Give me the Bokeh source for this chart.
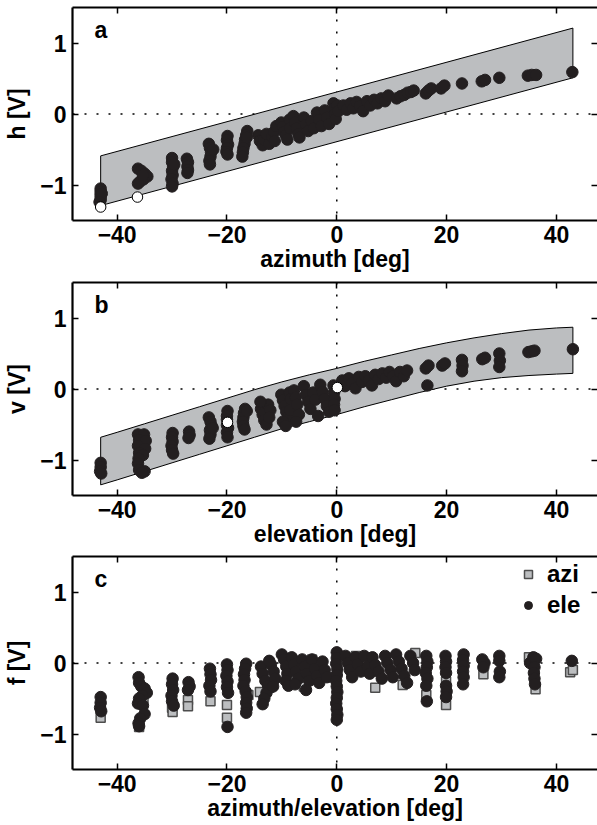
from bokeh.plotting import figure
from bokeh.layouts import column
from bokeh.models import Span, Label, LinearAxis, FixedTicker, Legend, LegendItem, Range1d
from bokeh.embed import file_html
from bokeh.resources import INLINE

# ---------------- data ----------------
x_ticks = [-40, -20, 0, 20, 40]
y_ticks = [-1, 0, 1]
x_tick_labels = {-40: "\u221240", -20: "\u221220", 0: "0", 20: "20", 40: "40"}
y_tick_labels = {-1: "\u22121", 0: "0", 1: "1"}

# panel a: horizontal channel vs azimuth
band_a_x = [-43, 43]
band_a_upper = [-0.59, 1.21]
band_a_lower = [-1.29, 0.51]

h_x = [-43, -43, -43, -43, -43, -42.8, -43.2,
       -36.2, -35.6, -35.0, -34.5, -35.2, -35.8, -36.2, -35.3,
       -30, -30, -29.8, -30, -29.9, -30.1, -29.9, -30, -29.6,
       -27.3, -27.1, -27.2, -27.1, -27.2,
       -23.3, -23.1, -22.9, -23.0, -23.2, -23.1, -22.5,
       -19.9, -20.0, -19.8, -20.0, -20.1, -19.9,
       -16.3, -16.5, -16.7, -16.8, -17.0, -17.1, -17.2, -16.4,
       -14.3, -14.0, -13.5, -13.2, -12.8, -12.3, -11.8, -11.4, -11.0, -11.3,
       -10.1, -9.8, -9.6, -9.3, -9.0, -8.6, -8.5,
       -7.9, -7.6, -7.3, -7.0, -6.8,
       -6.0, -5.6, -5.2, -4.6, -4.2, -3.6, -3.2, -2.8, -2.2, -1.8, -1.4,
       -0.6, -0.4, -0.3, -0.2, 0.1, 0.3,
       1.2, 1.8, 2.5, 3.0, 3.6, 4.2, 4.8, 5.5, 6.1, 6.8, 7.4, 8.1, 8.8, 9.4,
       10.9, 11.6, 12.3, 12.9, 13.5, 14.0,
       16.2, 16.7, 17.2,
       19.0, 19.6,
       22.8,
       26.4, 27.0,
       29.6,
       34.8, 35.5, 36.3,
       42.9]
h_y = [-1.05, -1.09, -1.13, -1.17, -1.21, -1.12, -1.24,
       -0.77, -0.80, -0.84, -0.88, -0.92, -0.95, -0.98, -0.86,
       -0.62, -0.68, -0.74, -0.80, -0.86, -0.92, -0.98, -1.02, -0.71,
       -0.63, -0.68, -0.74, -0.79, -0.83,
       -0.42, -0.48, -0.54, -0.60, -0.66, -0.71, -0.50,
       -0.31, -0.37, -0.43, -0.48, -0.53, -0.57,
       -0.24, -0.30, -0.36, -0.42, -0.48, -0.54, -0.60, -0.33,
       -0.30, -0.38, -0.44, -0.36, -0.28, -0.42, -0.32, -0.25, -0.17, -0.38,
       -0.12, -0.18, -0.25, -0.30, -0.36, -0.08, -0.20,
       -0.03, -0.12, -0.20, -0.28, -0.33,
       -0.05, -0.15, -0.24, -0.10, -0.20, 0.02, -0.08, -0.17, 0.05, -0.05, -0.14,
       0.15, 0.08, 0.00, -0.07, 0.12, 0.04,
       0.12, 0.06, 0.15, 0.08, 0.17, 0.11, 0.04, 0.18, 0.12, 0.20, 0.15, 0.22, 0.18, 0.26,
       0.22, 0.25, 0.27, 0.30, 0.31, 0.33,
       0.29, 0.33, 0.36,
       0.36, 0.40,
       0.43,
       0.46, 0.48,
       0.51,
       0.54, 0.55, 0.55,
       0.59]
h_open_x = [-43, -36.3]
h_open_y = [-1.31, -1.17]

# panel b: vertical channel vs elevation
band_b_x = [-43, -40, -35, -30, -25, -20, -15, -10, -5, 0, 5, 10, 15, 20, 25, 30, 35, 40, 43]
band_b_upper = [-0.68, -0.61, -0.49, -0.37, -0.25, -0.13, -0.01, 0.10, 0.20, 0.29,
                0.39, 0.48, 0.57, 0.65, 0.72, 0.78, 0.83, 0.86, 0.87]
band_b_lower = [-1.35, -1.28, -1.16, -1.04, -0.92, -0.80, -0.68, -0.56, -0.46, -0.36,
                -0.25, -0.15, -0.05, 0.04, 0.11, 0.16, 0.19, 0.21, 0.22]

v_x = [-43, -43, -43.1, -42.9,
       -36.2, -35.1, -36.0, -34.8, -36.2, -34.9, -36.0, -35.3, -36.1, -36.2, -36.0, -35.0, -35.5,
       -29.9, -30, -29.9, -30.1, -30, -29.8,
       -26.9, -26.8, -27.0,
       -23.3, -23.0, -22.8, -23.1, -23.0, -23.2, -22.6,
       -19.9, -20.0, -20.0, -20.0, -19.8, -20.0, -19.9,
       -16.7, -16.9, -17.0, -17.1, -17.0, -16.8, -16.4,
       -13.8, -13.5, -13.2, -12.8, -12.5, -12.1, -12.3, -13.9,
       -10.1, -9.8, -9.5, -9.2, -8.9, -8.6, -8.4,
       -9.8, -9.3, -8.5, -7.8, -7.5, -7.2, -6.9, -7.4,
       -6.0, -5.6, -5.2, -4.8, -4.3, -3.9, -3.4, -3.0, -2.6, -2.2, -1.8, -1.4,
       -0.6, -0.5, -0.4, -0.5, -0.4,
       1.0, 1.5, 2.2, 2.8, 3.4, 4.0, 4.6, 5.2, 5.8, 6.4, 7.0, 7.6, 8.3, 9.0, 9.6, 10.2, 10.8, 11.5, 12.2, 12.8,
       16.2, 16.7, 16.5,
       19.2, 19.7,
       22.8, 22.9, 22.8,
       26.5, 27.0,
       29.6, 29.7, 29.6,
       34.9, 35.5, 36.0,
       43]
v_y = [-1.04, -1.10, -1.16, -1.19,
       -0.64, -0.64, -0.72, -0.73, -0.80, -0.84, -0.90, -0.93, -0.98, -1.05, -1.14, -1.16, -1.18,
       -0.62, -0.68, -0.74, -0.80, -0.86, -0.91,
       -0.60, -0.65, -0.69,
       -0.40, -0.46, -0.52, -0.58, -0.64, -0.70, -0.55,
       -0.31, -0.38, -0.43, -0.51, -0.55, -0.61, -0.68,
       -0.28, -0.34, -0.40, -0.46, -0.52, -0.57, -0.31,
       -0.28, -0.36, -0.44, -0.50, -0.22, -0.30, -0.40, -0.18,
       -0.08, -0.16, -0.24, -0.32, -0.40, -0.05, -0.14,
       -0.46, -0.52, -0.30, -0.02, -0.12, -0.22, -0.36, -0.46,
       0.04, -0.08, -0.18, -0.28, -0.05, -0.15, -0.38, 0.06, -0.04, -0.14, -0.24, -0.32,
       0.05, -0.05, -0.14, -0.22, -0.30,
       0.12, 0.04, 0.15, 0.08, 0.01, 0.17, 0.10, 0.18, 0.12, 0.05, 0.20, 0.14, 0.22, 0.16, 0.24, 0.18, 0.11, 0.24, 0.18, 0.26,
       0.29, 0.33, 0.05,
       0.33, 0.36,
       0.41, 0.33, 0.25,
       0.42, 0.44,
       0.50, 0.40, 0.31,
       0.52, 0.53, 0.54,
       0.56]
v_open_x = [-19.9, 0.1]
v_open_y = [-0.47, 0.02]

# panel c: f channel, azimuth (squares) and elevation (circles)
f_azi_x = [-43, -43, -36, -35.2, -30, -29.9, -27.1, -27.1, -23, -20, -20, -16.1, -14, -12.3,
           -8.9, -6.0, -4.5, -0.8, 3.5, 7, 12, 14.3, 16.3, 19.9, 19.9, 26.7, 35, 36.2, 42.5, 43]
f_azi_y = [-0.61, -0.77, -0.90, -0.50, -0.63, -0.69, -0.52, -0.61, -0.54, -0.59, -0.77, -0.45, -0.41, -0.35,
           -0.28, -0.33, 0.05, -0.20, 0.10, -0.35, -0.31, 0.14, -0.45, -0.26, -0.59, -0.16, 0.08, -0.37, -0.13, -0.10]

f_ele_x = [-43, -43, -43.1, -42.9,
           -36.1, -36.0, -35.6, -35.0, -34.6, -35.4, -36.0, -36.2, -35.3, -35.0, -35.8, -36.1, -36.0,
           -29.9, -30.0, -29.8, -30.1, -30.0, -29.7,
           -27.0, -26.8, -27.1,
           -23.1, -23.0, -22.9, -23.2, -23.0,
           -20.0, -19.9, -20.1, -19.9, -20.0, -19.8, -19.9,
           -16.5, -16.7, -16.9, -16.8, -17.0, -16.6, -16.4, -16.5, -16.4, -16.5,
           -13.8, -13.5, -13.0, -12.5, -12.8, -13.2, -13.5, -12.0, -11.5, -11.2, -11.6, -12.3,
           -10.0, -9.6, -9.2, -9.0, -9.3, -8.8, -8.2, -7.8, -7.4, -7.0, -7.6,
           -6.3, -5.8, -5.4, -5.0, -5.6, -4.5, -4.0, -3.6, -3.2, -2.6, -2.2, -1.8,
           0, 0, -0.1, 0.1, 0, -0.1, 0, 0.1, 0, -0.1, 0, 0.1, 0,
           1.6, 2.0, 2.4, 2.8, 3.4, 3.8, 4.4, 5.0, 5.6, 6.0, 6.5, 7.0, 7.6, 8.2, 8.8, 9.2, 9.8, 10.2,
           10.8, 11.3, 11.8, 12.3, 12.8, 13.4, 13.9, 14.2,
           16.3, 16.5, 16.4, 16.2, 16.5, 16.3, 16.4,
           19.8, 19.9, 19.8, 19.9, 19.9, 20.0, 19.9,
           23.1, 23.0, 23.1, 23.0, 23.1, 23.0,
           26.5, 26.9, 26.7,
           29.6, 29.6, 29.7, 29.6,
           35.2, 35.8, 36.3, 36.0, 35.9, 36.0, 36.1,
           42.8]
f_ele_y = [-0.48, -0.56, -0.63, -0.68,
           -0.20, -0.28, -0.33, -0.36, -0.42, -0.46, -0.50, -0.57, -0.60, -0.72, -0.78, -0.85, -0.89,
           -0.22, -0.30, -0.38, -0.46, -0.54, -0.60,
           -0.27, -0.33, -0.38,
           -0.08, -0.16, -0.24, -0.32, -0.40,
           -0.02, -0.10, -0.18, -0.26, -0.34, -0.42, -0.90,
           -0.01, -0.08, -0.16, -0.24, -0.32, -0.40, -0.48, -0.56, -0.64, -0.70,
           -0.05, -0.15, -0.25, -0.32, -0.42, -0.50, -0.58, -0.02, -0.12, -0.22, -0.33, 0.03,
           0.12, 0.05, -0.05, -0.15, -0.25, -0.32, 0.08, -0.02, -0.12, -0.22, -0.30,
           0.05, -0.05, -0.15, -0.25, -0.38, 0.05, -0.08, -0.18, -0.28, 0.02, -0.10, -0.20,
           0.15, 0.07, -0.01, -0.09, -0.17, -0.25, -0.33, -0.41, -0.49, -0.57, -0.65, -0.73, -0.80,
           0.10, 0.00, -0.10, -0.20, 0.08, -0.02, -0.12, 0.10, -0.05, -0.15, 0.08, -0.03, -0.12, -0.22, 0.10, 0.00, -0.10, -0.20,
           0.12, 0.02, -0.08, -0.18, -0.28, 0.10, 0.00, -0.10,
           0.10, 0.02, -0.06, -0.14, -0.22, -0.32, -0.54,
           0.10, 0.02, -0.06, -0.14, -0.32, -0.40, -0.48,
           0.12, 0.04, -0.04, -0.12, -0.20, -0.30,
           0.05, 0.00, -0.06,
           0.10, 0.03, -0.12, -0.20,
           0.00, 0.08, 0.06, -0.06, -0.14, -0.22, -0.30,
           0.03]

# ---------------- styling ----------------
FONT = "Liberation Sans"
FS = "23px"
DOT = "#231f20"
BAND = "#bcbec0"
X_RANGE = (-48.13, 47.48)
Y_RANGE = (-1.5, 1.5)
MS = 11.5


def make_panel(letter, ylabel, xlabel, top_border, bottom_border):
    p = figure(output_backend="svg", toolbar_location=None,
               frame_width=525, frame_height=213,
               min_border_left=72, min_border_right=0,
               min_border_top=top_border, min_border_bottom=bottom_border,
               x_range=Range1d(*X_RANGE), y_range=Range1d(*Y_RANGE),
               x_axis_label=xlabel, y_axis_label=ylabel)
    p.outline_line_color = None
    p.xgrid.visible = False
    p.ygrid.visible = False
    p.background_fill_color = "white"
    p.border_fill_color = "white"

    for ax in p.xaxis:
        ax.ticker = FixedTicker(ticks=x_ticks)
        ax.major_label_overrides = x_tick_labels
        ax.major_label_standoff = 5
        ax.axis_label_standoff = 0
    for ax in p.yaxis:
        ax.ticker = FixedTicker(ticks=y_ticks)
        ax.major_label_overrides = y_tick_labels
        ax.major_label_standoff = 6
        ax.axis_label_standoff = 7
    for ax in p.xaxis + p.yaxis:
        ax.axis_line_width = 2.2
        ax.axis_line_color = "black"
        ax.major_tick_in = 6
        ax.major_tick_out = 0
        ax.major_tick_line_width = 1.5
        ax.minor_tick_line_color = None
        ax.major_label_text_font = FONT
        ax.major_label_text_font_style = "bold"
        ax.major_label_text_font_size = FS
        ax.major_label_text_color = "black"
        ax.axis_label_text_font = FONT
        ax.axis_label_text_font_style = "bold"
        ax.axis_label_text_font_size = FS
        ax.axis_label_text_color = "black"

    top = LinearAxis(ticker=FixedTicker(ticks=x_ticks), major_label_text_font_size="0px",
                     major_label_text_color=None, major_label_standoff=0,
                     major_tick_in=6, major_tick_out=0,
                     major_tick_line_width=1.5, axis_line_width=2.2, minor_tick_line_color=None)
    right = LinearAxis(ticker=FixedTicker(ticks=y_ticks), major_label_text_font_size="0px",
                       major_label_text_color=None, major_label_standoff=0,
                       major_tick_in=6, major_tick_out=0,
                       major_tick_line_width=1.5, axis_line_color=None, minor_tick_line_color=None)
    p.add_layout(top, "above")
    p.add_layout(right, "right")

    p.add_layout(Span(location=0, dimension="width", line_color="black", line_width=1.5,
                      line_dash="2 10", level="underlay"))
    p.add_layout(Span(location=0, dimension="height", line_color="black", line_width=1.5,
                      line_dash="2 10", level="underlay"))

    p.add_layout(Label(x=22, y=178, x_units="screen", y_units="screen", text=letter,
                       text_font=FONT, text_font_style="bold", text_font_size=FS,
                       text_color="black"))
    return p


pa = make_panel("a", "h [V]", "azimuth [deg]", 7, 57)
pa.patch(band_a_x + band_a_x[::-1], band_a_upper + band_a_lower[::-1],
         fill_color=BAND, line_color="black", line_width=1)
pa.scatter(h_x, h_y, marker="circle", size=MS, fill_color=DOT, line_color=DOT)
pa.scatter(h_open_x, h_open_y, marker="circle", size=10.5, fill_color="white",
           line_color="black", line_width=1)

pb = make_panel("b", "v [V]", "elevation [deg]", 5, 57)
pb.patch(band_b_x + band_b_x[::-1], band_b_upper + band_b_lower[::-1],
         fill_color=BAND, line_color="black", line_width=1)
pb.scatter(v_x, v_y, marker="circle", size=MS, fill_color=DOT, line_color=DOT)
pb.scatter(v_open_x, v_open_y, marker="circle", size=10.5, fill_color="white",
           line_color="black", line_width=1)

pc = make_panel("c", "f [V]", "azimuth/elevation [deg]", 4, 56)
r_azi = pc.scatter(f_azi_x, f_azi_y, marker="square", size=9, fill_color=BAND,
                   line_color="#4d4d4d", line_width=1.5)
r_ele = pc.scatter(f_ele_x, f_ele_y, marker="circle", size=MS, fill_color=DOT, line_color=DOT)
legend = Legend(items=[LegendItem(label="azi", renderers=[r_azi]),
                       LegendItem(label="ele", renderers=[r_ele])],
                location=(446, 150), padding=0, spacing=3, margin=0,
                glyph_width=20, glyph_height=24, label_height=24, label_standoff=9,
                label_text_font=FONT, label_text_font_style="bold", label_text_font_size="24px",
                label_text_color="black", border_line_color=None, background_fill_alpha=0)
pc.add_layout(legend)

layout = column(pa, pb, pc, spacing=0)
open("out.html", "w").write(file_html(layout, INLINE))
